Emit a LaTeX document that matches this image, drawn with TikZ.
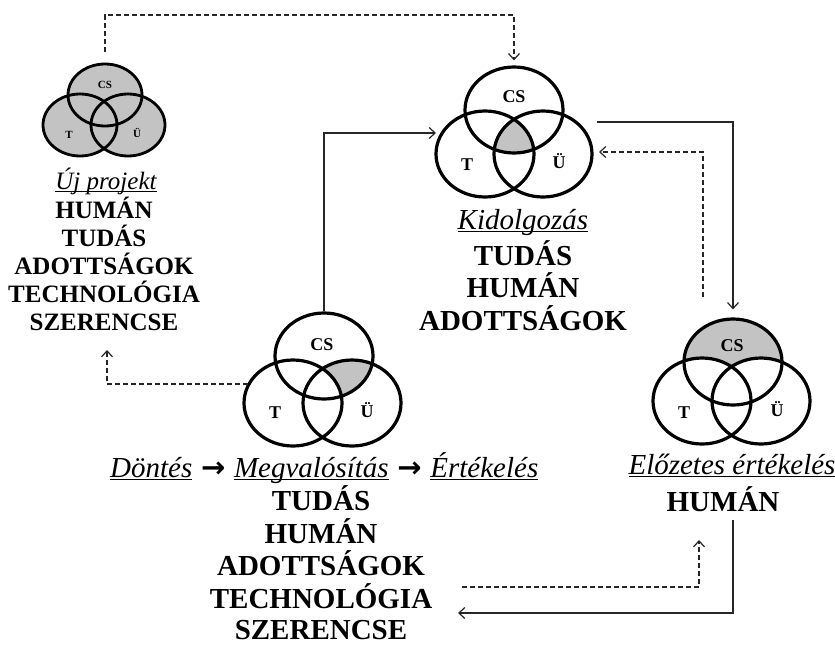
\documentclass[tikz,border=0pt]{standalone}
\usepackage{fontspec}
\setmainfont{Liberation Serif}
\newfontfamily\arrowfont{DejaVu Sans}
\usetikzlibrary{arrows.meta,shapes.geometric}
\newcommand{\ulword}[1]{\setbox0\hbox{#1}\rlap{\rule[-0.12em]{\wd0}{0.055em}}\box0}
\newcommand{\sarrow}{\hspace{0.3em}{\arrowfont\bfseries\fontsize{29}{29}\selectfont →}\hspace{0.3em}}
\definecolor{vgray}{RGB}{195,195,195}
\begin{document}
\begin{tikzpicture}[x=1pt,y=-1pt,
  ringL/.style={ellipse,draw=black,line width=3.2pt,minimum width=98pt,minimum height=86pt,inner sep=0pt},
  ringS/.style={ellipse,draw=black,line width=2.8pt,minimum width=74pt,minimum height=62pt,inner sep=0pt},
  labL/.style={font=\fontsize{18}{18}\selectfont\bfseries,anchor=base,inner sep=0pt},
  labS/.style={font=\fontsize{11}{11}\selectfont\bfseries,anchor=base,inner sep=0pt},
  boldL/.style={font=\fontsize{29}{33}\selectfont\bfseries,anchor=base,inner sep=0pt},
  italL/.style={font=\fontsize{29}{33}\selectfont\itshape,anchor=base,inner sep=0pt},
  boldS/.style={font=\fontsize{25}{28}\selectfont\bfseries,anchor=base,inner sep=0pt},
  italS/.style={font=\fontsize{25}{28}\selectfont\itshape,anchor=base,inner sep=0pt},
  conn/.style={line width=1.2pt,draw=black!85,-{Straight Barb[length=6pt,width=11pt]}},
  dconn/.style={conn,dash pattern=on 5pt off 3pt},
  LE/.style={x radius=49pt,y radius=43pt},
  SE/.style={x radius=37pt,y radius=31pt}]
\useasboundingbox (0,0) rectangle (835,646);

% ---------- Venn 1 : Uj projekt ----------
\coordinate (k1a) at (105,95);
\coordinate (k1b) at (80,125);
\coordinate (k1c) at (128,125);
\fill[vgray] (k1a) ellipse [SE];
\fill[vgray] (k1b) ellipse [SE];
\fill[vgray] (k1c) ellipse [SE];
\node[ringS] (v1cs) at (k1a) {};
\node[ringS] (v1t) at (k1b) {};
\node[ringS] (v1u) at (k1c) {};
\node[labS] (l1cs) at (105,88) {CS};
\node[labS] (l1t) at (69,138) {T};
\node[labS] (l1u) at (137,137) {Ü};

% ---------- Venn 2 : Kidolgozas ----------
\coordinate (k2a) at (514,110);
\coordinate (k2b) at (485,154);
\coordinate (k2c) at (543,154);
\begin{scope}
  \clip (k2a) ellipse [LE];
  \clip (k2b) ellipse [LE];
  \fill[vgray] (k2c) ellipse [LE];
\end{scope}
\node[ringL] (v2cs) at (k2a) {};
\node[ringL] (v2t) at (k2b) {};
\node[ringL] (v2u) at (k2c) {};
\node[labL] (l2cs) at (514,102) {CS};
\node[labL] (l2t) at (467,170) {T};
\node[labL] (l2u) at (559,168) {Ü};

% ---------- Venn 3 : Dontes ----------
\coordinate (k3a) at (324,356);
\coordinate (k3b) at (293,403);
\coordinate (k3c) at (352,403);
\begin{scope}
  \clip (k3a) ellipse [LE];
  \clip (k3c) ellipse [LE];
  \fill[vgray] (k3a) ellipse [LE];
  \fill[white] (k3b) ellipse [LE];
\end{scope}
\node[ringL] (v3cs) at (k3a) {};
\node[ringL] (v3t) at (k3b) {};
\node[ringL] (v3u) at (k3c) {};
\node[labL] (l3cs) at (322,350) {CS};
\node[labL] (l3t) at (275,418) {T};
\node[labL] (l3u) at (367,417) {Ü};

% ---------- Venn 4 : Elozetes ----------
\coordinate (k4a) at (733,362);
\coordinate (k4b) at (702,401);
\coordinate (k4c) at (761,401);
\begin{scope}
  \clip (k4a) ellipse [LE];
  \fill[vgray] (k4a) ellipse [LE];
  \fill[white] (k4b) ellipse [LE];
  \fill[white] (k4c) ellipse [LE];
\end{scope}
\node[ringL] (v4cs) at (k4a) {};
\node[ringL] (v4t) at (k4b) {};
\node[ringL] (v4u) at (k4c) {};
\node[labL] (l4cs) at (732,351) {CS};
\node[labL] (l4t) at (684,418) {T};
\node[labL] (l4u) at (777,416) {Ü};

% ---------- Texts ----------
\node[italS] (ujt) at (106,189) {\ulword{Új projekt}};
\foreach \w/\yy [count=\i] in {HUMÁN/218,TUDÁS/246,ADOTTSÁGOK/274,TECHNOLÓGIA/302,SZERENCSE/330}
  \node[boldS] (uj\i) at (104,\yy) {\w};

\node[italL] (kidt) at (523,229) {\ulword{Kidolgozás}};
\foreach \w/\yy [count=\i] in {TUDÁS/265,HUMÁN/297.5,ADOTTSÁGOK/330}
  \node[boldL] (kid\i) at (523,\yy) {\w};

\node[italL,anchor=base west] (dont) at (110,477)
  {\ulword{Döntés}\sarrow\ulword{Megvalósítás}\sarrow\ulword{Értékelés}};
\foreach \w/\yy [count=\i] in {TUDÁS/510,HUMÁN/543,ADOTTSÁGOK/575.5,TECHNOLÓGIA/608,SZERENCSE/639}
  \node[boldL] (dt\i) at (321,\yy) {\w};

\node[italL] (elot) at (732,474) {\ulword{Előzetes értékelés}};
\node[boldL] (elo1) at (723,511) {HUMÁN};

% ---------- Connectors ----------
\coordinate (c1top) at (300,15);
\draw[dconn,shorten <=11pt,shorten >=5pt] (v1cs.north) |- (c1top) -| (v2cs.north);

\coordinate (c2e) at (436,133);
\draw[conn] (v3cs.north) |- (c2e);

\coordinate (c3s) at (597,122);
\draw[conn,shorten >=8pt] (c3s) -| (v4cs.north);

\coordinate (c4s) at (703,297);
\coordinate (c4e) at (599,152);
\draw[dconn] (c4s) |- (c4e);

\coordinate (c5s) at (248,384);
\coordinate (c5e) at (107,350);
\draw[dconn] (c5s) -| (c5e);

\coordinate (c6s) at (733,520);
\coordinate (c6e) at (458,613);
\draw[conn] (c6s) |- (c6e);

\coordinate (c7s) at (462,587);
\coordinate (c7e) at (699,540);
\draw[dconn] (c7s) -| (c7e);
\end{tikzpicture}
\end{document}
